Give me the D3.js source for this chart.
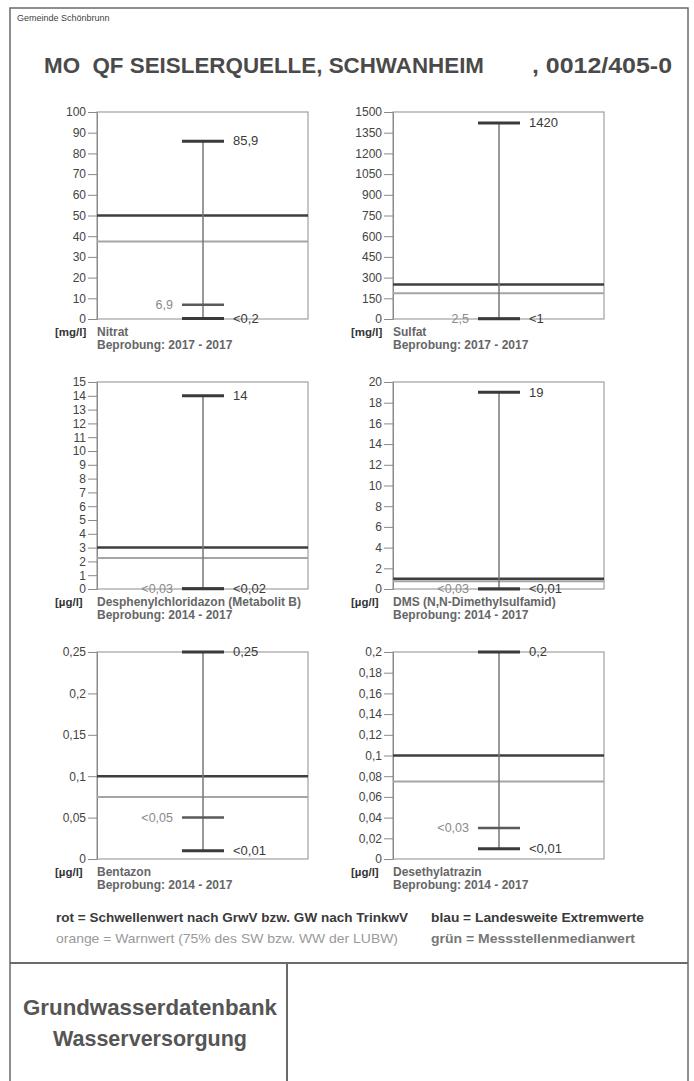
<!DOCTYPE html>
<html>
<head>
<meta charset="utf-8">
<script src="https://cdn.jsdelivr.net/npm/d3@7"></script>
<style>
  html, body { margin: 0; padding: 0; background: #fff; }
  svg { display: block; font-family: "Liberation Sans", Arial, sans-serif; }
  text { white-space: pre; }
</style>
</head>
<body>
<svg id="chart" width="694" height="1081"></svg>
<script>
// ---------- data ----------
const substances = ["Nitrat", "Sulfat", "Desphenylchloridazon (Metabolit B)", "DMS (N,N-Dimethylsulfamid)", "Bentazon", "Desethylatrazin"];
const units = ["[mg/l]", "[mg/l]", "[µg/l]", "[µg/l]", "[µg/l]", "[µg/l]"];
const periods = ["Beprobung: 2017 - 2017", "Beprobung: 2017 - 2017", "Beprobung: 2014 - 2017", "Beprobung: 2014 - 2017", "Beprobung: 2014 - 2017", "Beprobung: 2014 - 2017"];
const maxValues = [85.9, 1420, 14, 19, 0.25, 0.2];
const maxLabels = ["85,9", "1420", "14", "19", "0,25", "0,2"];
const minValues = [0.2, 1, 0.02, 0.01, 0.01, 0.01];
const minLabels = ["<0,2", "<1", "<0,02", "<0,01", "<0,01", "<0,01"];
const medianValues = [6.9, 2.5, 0.03, 0.03, 0.05, 0.03];
const medianLabels = ["6,9", "2,5", "<0,03", "<0,03", "<0,05", "<0,03"];
const thresholdValues = [50, 250, 3, 1, 0.1, 0.1];
const warnValues = [37.5, 187.5, 2.25, 0.75, 0.075, 0.075];
const yMax = [100, 1500, 15, 20, 0.25, 0.2];
const yTicks = [
  [0, 10, 20, 30, 40, 50, 60, 70, 80, 90, 100],
  [0, 150, 300, 450, 600, 750, 900, 1050, 1200, 1350, 1500],
  [0, 1, 2, 3, 4, 5, 6, 7, 8, 9, 10, 11, 12, 13, 14, 15],
  [0, 2, 4, 6, 8, 10, 12, 14, 16, 18, 20],
  [0, 0.05, 0.1, 0.15, 0.2, 0.25],
  [0, 0.02, 0.04, 0.06, 0.08, 0.1, 0.12, 0.14, 0.16, 0.18, 0.2]
];
const headerText = "Gemeinde Schönbrunn";
const titleText = "MO  QF SEISLERQUELLE, SCHWANHEIM";
const titleCode = ", 0012/405-0";
const legendLeft = ["rot = Schwellenwert nach GrwV bzw. GW nach TrinkwV", "orange = Warnwert (75% des SW bzw. WW der LUBW)"];
const legendRight = ["blau = Landesweite Extremwerte", "grün = Messstellenmedianwert"];
const footerText = ["Grundwasserdatenbank", "Wasserversorgung"];

// ---------- layout ----------
const svg = d3.select("#chart");
svg.append("rect").attr("width", 694).attr("height", 1081).attr("fill", "#fff");

// outer frame
svg.append("rect").attr("x", 10).attr("y", 8).attr("width", 678).attr("height", 1090)
  .attr("fill", "none").attr("stroke", "#6a6a6a").attr("stroke-width", 1.5);
svg.append("line").attr("x1", 10).attr("x2", 688).attr("y1", 963).attr("y2", 963)
  .attr("stroke", "#6a6a6a").attr("stroke-width", 2);
svg.append("line").attr("x1", 287).attr("x2", 287).attr("y1", 963).attr("y2", 1081)
  .attr("stroke", "#6a6a6a").attr("stroke-width", 2);

svg.append("text").attr("x", 17).attr("y", 21).attr("font-size", 9).attr("fill", "#444")
  .text(headerText);
svg.append("text").attr("x", 44).attr("y", 73).attr("font-size", 22).attr("font-weight", "bold")
  .attr("fill", "#4a4a4a").attr("textLength", 440).attr("lengthAdjust", "spacingAndGlyphs").text(titleText);
svg.append("text").attr("x", 532).attr("y", 73).attr("font-size", 22).attr("font-weight", "bold")
  .attr("fill", "#4a4a4a").attr("textLength", 140).attr("lengthAdjust", "spacingAndGlyphs").text(titleCode);

const colX = [97, 393];
const rowY = [112, 382, 652];
const pw = 211, ph = 207;
const fmt = v => String(v).replace(".", ",");

substances.forEach((name, i) => {
  const x0 = colX[i % 2], y0 = rowY[Math.floor(i / 2)];
  const g = svg.append("g").attr("transform", `translate(${x0},${y0})`);
  const y = d3.scaleLinear().domain([0, yMax[i]]).range([ph, 0]);
  const cx = 106, capHalf = 21;

  // frame
  g.append("rect").attr("x", 0).attr("y", 0).attr("width", pw).attr("height", ph)
    .attr("fill", "none").attr("stroke", "#a0a0a0").attr("stroke-width", 1.2);

  // axis
  const axis = d3.axisLeft(y).tickValues(yTicks[i]).tickFormat(fmt).tickSize(9).tickPadding(2);
  const ag = g.append("g").call(axis);
  ag.select(".domain").attr("stroke", "#8a8a8a");
  ag.selectAll(".tick line").attr("stroke", "#8a8a8a");
  ag.selectAll(".tick text").attr("fill", "#444").attr("font-size", 12)
    .attr("font-family", "'Liberation Sans', Arial, sans-serif");

  // warn line (orange) and threshold (red)
  g.append("line").attr("x1", 0).attr("x2", pw).attr("y1", y(warnValues[i])).attr("y2", y(warnValues[i]))
    .attr("stroke", "#a5a5a5").attr("stroke-width", 2);
  g.append("line").attr("x1", 0).attr("x2", pw).attr("y1", y(thresholdValues[i])).attr("y2", y(thresholdValues[i]))
    .attr("stroke", "#3e3e3e").attr("stroke-width", 2.5);

  // whisker
  g.append("line").attr("x1", cx).attr("x2", cx).attr("y1", y(minValues[i])).attr("y2", y(maxValues[i]))
    .attr("stroke", "#777").attr("stroke-width", 1.5);

  // median cap (green)
  g.append("line").attr("x1", cx - capHalf).attr("x2", cx + capHalf)
    .attr("y1", y(medianValues[i])).attr("y2", y(medianValues[i]))
    .attr("stroke", "#5a5a5a").attr("stroke-width", 2.5);
  g.append("text").attr("x", cx - 30).attr("y", y(medianValues[i])).attr("dy", "0.32em")
    .attr("text-anchor", "end").attr("font-size", 12.5).attr("fill", "#8a8a8a").text(medianLabels[i]);

  // extremes (blue)
  [[maxValues[i], maxLabels[i]], [minValues[i], minLabels[i]]].forEach(([v, lab]) => {
    g.append("line").attr("x1", cx - capHalf).attr("x2", cx + capHalf).attr("y1", y(v)).attr("y2", y(v))
      .attr("stroke", "#3a3a3a").attr("stroke-width", 3);
    g.append("text").attr("x", cx + 30).attr("y", y(v)).attr("dy", "0.32em")
      .attr("font-size", 13).attr("fill", "#3a3a3a").text(lab);
  });

  // labels
  g.append("text").attr("x", -42).attr("y", ph + 17).attr("font-size", 11.5).attr("font-weight", "bold")
    .attr("fill", "#333").text(units[i]);
  g.append("text").attr("x", 0).attr("y", ph + 17).attr("font-size", 12).attr("font-weight", "bold")
    .attr("fill", "#666").text(name);
  g.append("text").attr("x", 0).attr("y", ph + 30).attr("font-size", 12).attr("font-weight", "bold")
    .attr("fill", "#666").text(periods[i]);
});

// legend
const legendY = [922, 943];
svg.append("text").attr("x", 56).attr("y", legendY[0]).attr("font-size", 13).attr("font-weight", "bold")
  .attr("fill", "#3a3a3a").attr("textLength", 352).attr("lengthAdjust", "spacingAndGlyphs").text(legendLeft[0]);
svg.append("text").attr("x", 56).attr("y", legendY[1]).attr("font-size", 13)
  .attr("fill", "#9a9a9a").attr("textLength", 342).attr("lengthAdjust", "spacingAndGlyphs").text(legendLeft[1]);
svg.append("text").attr("x", 431).attr("y", legendY[0]).attr("font-size", 13).attr("font-weight", "bold")
  .attr("fill", "#3a3a3a").attr("textLength", 213).attr("lengthAdjust", "spacingAndGlyphs").text(legendRight[0]);
svg.append("text").attr("x", 431).attr("y", legendY[1]).attr("font-size", 13).attr("font-weight", "bold")
  .attr("fill", "#777").attr("textLength", 204).attr("lengthAdjust", "spacingAndGlyphs").text(legendRight[1]);

// footer
svg.append("text").attr("x", 150).attr("y", 1015).attr("text-anchor", "middle").attr("font-size", 22)
  .attr("font-weight", "bold").attr("fill", "#555").attr("textLength", 254).attr("lengthAdjust", "spacingAndGlyphs")
  .text(footerText[0]);
svg.append("text").attr("x", 150).attr("y", 1046).attr("text-anchor", "middle").attr("font-size", 22)
  .attr("font-weight", "bold").attr("fill", "#555").attr("textLength", 194).attr("lengthAdjust", "spacingAndGlyphs")
  .text(footerText[1]);
</script>
</body>
</html>
